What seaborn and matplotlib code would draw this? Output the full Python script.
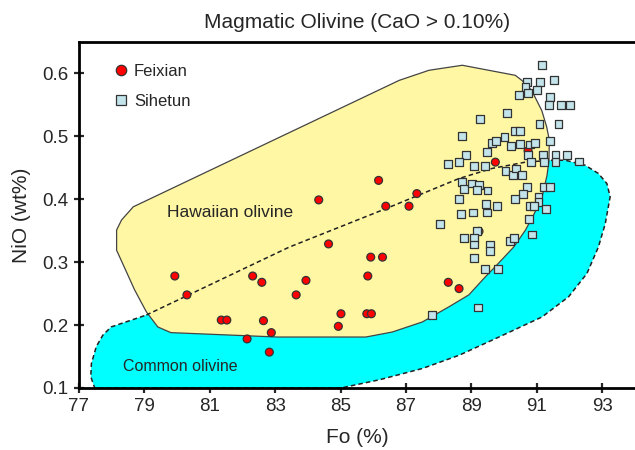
import numpy as np
import pandas as pd
import matplotlib
matplotlib.use("Agg")
import matplotlib.pyplot as plt
import seaborn as sns
from matplotlib.lines import Line2D

# Feixian olivine (Fo %, NiO wt%)
feixian_fo = [79.93, 80.30, 82.31, 82.59, 81.35, 81.52, 82.64, 82.88, 82.14, 82.82,
              86.16, 84.33, 87.33, 86.38, 87.09, 84.63, 85.92, 86.28, 83.94, 83.64,
              85.83, 85.01, 85.80, 85.94, 84.93, 88.29, 88.62, 89.73, 90.73, 89.23]
feixian_nio = [0.278, 0.248, 0.278, 0.268, 0.208, 0.208, 0.207, 0.188, 0.178, 0.157,
               0.430, 0.399, 0.409, 0.389, 0.389, 0.329, 0.308, 0.308, 0.271, 0.248,
               0.278, 0.218, 0.218, 0.218, 0.198, 0.268, 0.258, 0.459, 0.477, 0.349]

# Sihetun olivine
sihetun_fo = [91.16, 90.70, 91.09, 91.52, 90.65, 90.73, 91.00, 90.46, 91.39, 91.37,
              91.73, 92.02, 90.08, 89.27, 91.08, 91.66, 88.70, 90.32, 90.48, 89.63,
              89.75, 90.01, 90.20, 90.48, 90.80, 90.94, 91.41, 89.48, 88.82, 90.74,
              91.18, 91.57, 91.93, 88.29, 88.61, 89.08, 89.42, 90.82, 91.22, 91.57,
              92.30, 90.04, 90.27, 90.37, 90.55, 88.71, 88.78, 89.01, 89.23, 89.16,
              89.49, 90.69, 90.58, 91.23, 91.41, 91.05, 91.05, 90.32, 88.63, 89.44,
              89.77, 89.48, 89.05, 88.67, 90.79, 90.92, 91.27, 90.75, 88.05, 89.17,
              88.77, 89.09, 89.08, 89.56, 89.56, 90.18, 90.30, 90.85, 89.08, 89.42,
              89.80, 89.20, 87.80]
sihetun_nio = [0.614, 0.587, 0.587, 0.590, 0.579, 0.569, 0.573, 0.566, 0.562, 0.550,
               0.550, 0.550, 0.537, 0.527, 0.520, 0.520, 0.501, 0.509, 0.509, 0.489,
               0.493, 0.499, 0.484, 0.488, 0.487, 0.489, 0.493, 0.475, 0.470, 0.470,
               0.470, 0.470, 0.470, 0.456, 0.459, 0.453, 0.453, 0.459, 0.459, 0.459,
               0.460, 0.445, 0.439, 0.449, 0.439, 0.427, 0.416, 0.425, 0.422, 0.415,
               0.414, 0.420, 0.409, 0.420, 0.420, 0.403, 0.396, 0.400, 0.400, 0.392,
               0.389, 0.379, 0.379, 0.377, 0.389, 0.389, 0.384, 0.369, 0.360, 0.349,
               0.339, 0.339, 0.328, 0.328, 0.318, 0.334, 0.339, 0.344, 0.307, 0.289,
               0.289, 0.228, 0.216]

# Hawaiian olivine field outline
hawaii_fo = [78.15, 78.15, 78.70, 79.06, 79.41, 79.81, 83.07, 85.77, 86.58, 87.50,
             88.31, 88.92, 89.43, 89.73, 90.29, 90.65, 90.90, 91.16, 91.31, 91.37,
             91.38, 91.30, 91.15, 90.84, 90.54, 90.34, 88.72, 87.70, 86.79, 80.48,
             78.66, 78.30]
hawaii_nio = [0.351, 0.319, 0.256, 0.221, 0.197, 0.188, 0.181, 0.181, 0.189, 0.205,
              0.229, 0.248, 0.277, 0.293, 0.324, 0.351, 0.375, 0.404, 0.438, 0.462,
              0.494, 0.515, 0.541, 0.573, 0.589, 0.597, 0.613, 0.605, 0.589, 0.433,
              0.388, 0.367]

# Common olivine field outline
common_fo = [79.06, 83.43, 86.38, 88.62, 89.63, 90.65, 91.46, 91.87, 92.48, 92.88,
             93.14, 93.24, 93.09, 92.88, 92.53, 91.97, 91.16, 89.84, 88.62, 87.50,
             86.18, 85.01, 77.48, 77.36, 77.38, 77.53, 77.73, 77.98]
common_nio = [0.216, 0.324, 0.385, 0.433, 0.449, 0.459, 0.462, 0.462, 0.454, 0.441,
              0.425, 0.404, 0.361, 0.324, 0.282, 0.245, 0.213, 0.181, 0.152, 0.131,
              0.113, 0.100, 0.100, 0.118, 0.139, 0.166, 0.184, 0.197]

df = pd.DataFrame({
    "Fo": feixian_fo + sihetun_fo,
    "NiO": feixian_nio + sihetun_nio,
    "site": ["Feixian"] * len(feixian_fo) + ["Sihetun"] * len(sihetun_fo),
})

sns.set_style("ticks")
plt.rcParams["font.family"] = ["Liberation Sans", "DejaVu Sans"]

fig = plt.figure(figsize=(6.35, 4.5), dpi=100)
ax = fig.add_axes([0.1244, 0.1378, 0.8756, 0.7689])

# fields: common olivine under, hawaiian over, dashed common outline on top
ax.fill(common_fo, common_nio, facecolor="#00ffff", edgecolor="none", zorder=1)
ax.fill(hawaii_fo, hawaii_nio, facecolor="#fff7a3", edgecolor="#444444",
        linewidth=0.9, zorder=1.2)
ax.plot(common_fo + common_fo[:1], common_nio + common_nio[:1], color="#222222",
        linestyle=(0, (3, 2)), linewidth=1.1, zorder=1.5)

sns.scatterplot(data=df, x="Fo", y="NiO", hue="site", style="site",
                markers={"Feixian": "o", "Sihetun": "s"},
                palette={"Feixian": "#ff0000", "Sihetun": "#c4e4ec"},
                s=32, edgecolor="#333333", linewidth=0.9, legend=False,
                zorder=5, ax=ax)

ax.text(79.7, 0.379, "Hawaiian olivine", fontsize=12.5, va="center", zorder=3)
ax.text(78.35, 0.134, "Common olivine", fontsize=11.5, va="center", zorder=3)

handles = [
    Line2D([], [], marker="o", linestyle="none", markersize=7.5,
           markerfacecolor="#ff0000", markeredgecolor="#333333", markeredgewidth=0.9),
    Line2D([], [], marker="s", linestyle="none", markersize=7,
           markerfacecolor="#c4e4ec", markeredgecolor="#333333", markeredgewidth=0.9),
]
ax.legend(handles, ["Feixian", "Sihetun"], loc="upper left",
          bbox_to_anchor=(0.03, 0.98), frameon=False, fontsize=12,
          handletextpad=0.2, labelspacing=0.9, handlelength=1.2)

ax.set_xlim(77, 94)
ax.set_ylim(0.1, 0.65)
ax.set_xticks(np.arange(77, 94, 2))
ax.set_yticks([0.1, 0.2, 0.3, 0.4, 0.5, 0.6])
ax.set_yticklabels(["0.1", "0.2", "0.3", "0.4", "0.5", "0.6"])
ax.tick_params(direction="inout", length=7, width=1.6, labelsize=13.5, pad=4)

for side in ["left", "bottom", "top"]:
    ax.spines[side].set_linewidth(2)
    ax.spines[side].set_color("black")
    ax.spines[side].set_zorder(6)
ax.spines["right"].set_visible(False)

ax.set_xlabel("Fo (%)", fontsize=15, labelpad=9)
ax.set_ylabel("NiO (wt%)", fontsize=15, labelpad=8)
ax.set_title("Magmatic Olivine (CaO > 0.10%)", fontsize=15, pad=10)

fig.savefig("out.png", dpi=100)
